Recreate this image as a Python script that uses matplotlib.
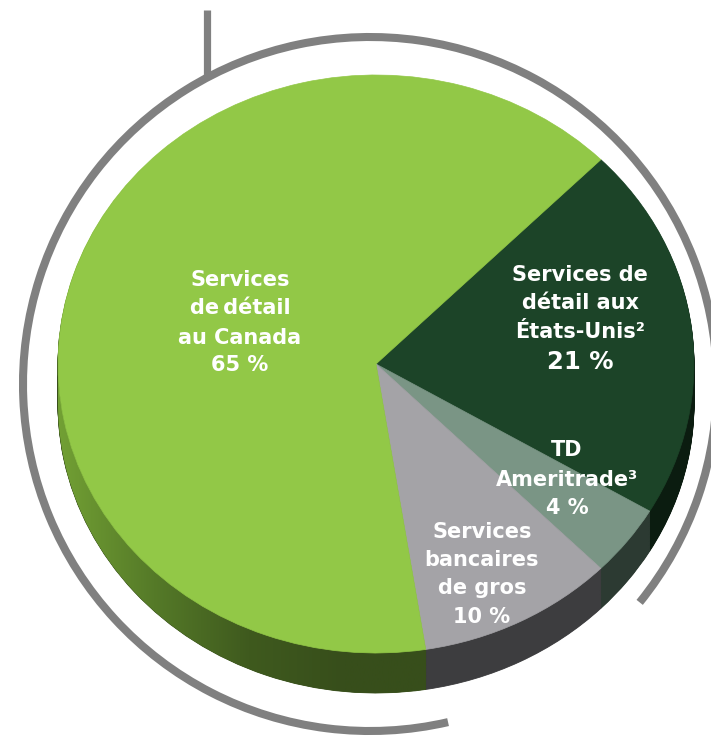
import numpy as np
import matplotlib
matplotlib.use('Agg')
import matplotlib.pyplot as plt
from matplotlib.patches import Arc, PathPatch
from matplotlib.path import Path

# --- Data ---
segments = ['US', 'TD', 'Wholesale', 'Canada']
shares = [21, 4, 10, 65]
top_colors = ['#1c4428', '#7a9585', '#a4a3a7', '#92c847']
side_colors = ['#0b1c10', '#2c3a32', '#3d3d3f', '#384f1b']

label_lines = [
    ['Services de', 'détail aux', 'États-Unis²', '21 %'],
    ['TD', 'Ameritrade³', '4 %'],
    ['Services', 'bancaires', 'de gros', '10 %'],
    ['Services', 'de\u2009détail', 'au Canada', '65 %'],
]
label_x = [580, 567, 482, 240]
label_y = [[275, 303, 332, 362], [450, 480, 508], [532, 560, 588, 617], [280, 308, 338, 365]]

# --- Geometry (pixels) ---
W, H = 711, 739
CX, CY = 376, 364       # centre of top face
RX, RY = 318, 289       # ellipse radii
DEPTH = 40 / RY         # side height in pie units

fig = plt.figure(figsize=(W / 100, H / 100), dpi=100)

# background axes for ring & tick line (pixel coords, y up)
ax_bg = fig.add_axes([0, 0, 1, 1], label='bg')
ax_bg.set_xlim(0, W)
ax_bg.set_ylim(0, H)
ax_bg.axis('off')
ring_c = (370, H - 384)
ring_r = 347
ax_bg.add_patch(Arc(ring_c, 2 * ring_r, 2 * ring_r, theta1=-39, theta2=283,
                    color='#808080', lw=5.8))
ax_bg.plot([207, 207], [H - 10, H - 76], color='#808080', lw=5.2, solid_capstyle='butt')

# pie axes: one unit = one ellipse radius
ax = fig.add_axes([0, 0, 1, 1], label='pie')
xlim = ((0 - CX) / RX, (W - CX) / RX)
ylim = ((CY - H) / RY, CY / RY)

# side: stacked layers
for t in np.linspace(DEPTH, 0.004, 50):
    ax.pie(shares, colors=side_colors, startangle=45, counterclock=False,
           center=(0, -t), radius=1, wedgeprops=dict(linewidth=0.6, edgecolor=None))
    for w in ax.patches[-4:]:
        w.set_edgecolor(w.get_facecolor())

# gradient on the Canada side band (left part)
theta = np.radians(np.linspace(180, 279, 120))
top_edge = np.column_stack([np.cos(theta), np.sin(theta)])
bot_edge = top_edge - [0, DEPTH]
band = np.vstack([top_edge, bot_edge[::-1], top_edge[:1]])
band_path = Path(band)
grad = np.linspace(0, 1, 256).reshape(1, -1)
cmap = matplotlib.colors.LinearSegmentedColormap.from_list(
    'side', ['#72a034', '#557a28', '#3f5a1e', '#374e1b', '#374e1b'])
im = ax.imshow(grad, cmap=cmap, extent=(-1, 0.2, -1.3, 0.2), aspect='auto', zorder=2)
clip = PathPatch(band_path, transform=ax.transData, facecolor='none', edgecolor='none')
ax.add_patch(clip)
im.set_clip_path(clip)

# top face
wedges, _ = ax.pie(shares, colors=top_colors, startangle=45, counterclock=False,
                   center=(0, 0), radius=1, wedgeprops=dict(linewidth=0.5))
for w in wedges:
    w.set_edgecolor(w.get_facecolor())
    w.set_zorder(3)

ax.set_aspect('auto')
ax.set_xlim(*xlim)
ax.set_ylim(*ylim)
ax.axis('off')

# labels (pixel coords, y down)
ax_t = fig.add_axes([0, 0, 1, 1], label='txt')
ax_t.set_xlim(0, W)
ax_t.set_ylim(H, 0)
ax_t.axis('off')
for lines, x, ys in zip(label_lines, label_x, label_y):
    for i, (s, y) in enumerate(zip(lines, ys)):
        size = 17.5 if s == '21 %' else 15
        ax_t.text(x, y, s, ha='center', va='center', color='white',
                  fontsize=size, fontweight='bold', family='DejaVu Sans')

fig.savefig('out.png', dpi=100)
